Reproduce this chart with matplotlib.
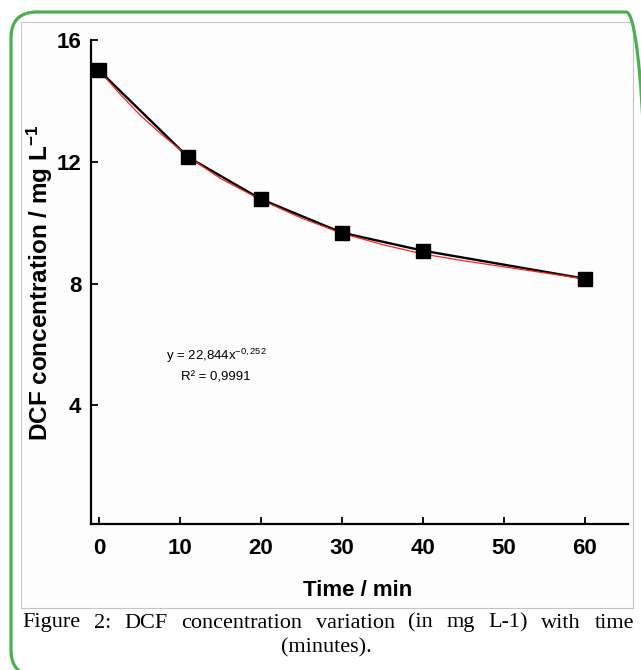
import matplotlib
matplotlib.use("Agg")
import matplotlib.pyplot as plt
from matplotlib.patches import FancyBboxPatch, Rectangle
from matplotlib.transforms import IdentityTransform

# ---- data ----
time_min = [0, 11, 20, 30, 40, 60]
dcf_conc = [15.0, 12.15, 10.77, 9.67, 9.08, 8.16]

fit_time = [0, 2.5, 5, 7.5, 10, 12.5, 15, 20, 25, 30, 35, 40, 45, 50, 55, 60]
fit_conc = [15.0, 14.25, 13.55, 12.95, 12.4, 11.9, 11.45, 10.75, 10.15, 9.65,
            9.28, 8.97, 8.75, 8.55, 8.35, 8.15]

x_ticks = [0, 10, 20, 30, 40, 50, 60]
y_ticks = [4, 8, 12, 16]

eq_line1 = r"y = 22,844x$^{\mathrm{-0,252}}$"
eq_line2 = "R² = 0,9991"
x_label = "Time / min"
y_label = r"DCF concentration / mg L$^{\mathbf{-1}}$"
caption1 = "Figure 2: DCF concentration variation (in mg L-1) with time"
caption2 = "(minutes)."

plt.rcParams['mathtext.fontset'] = 'custom'
plt.rcParams['mathtext.rm'] = 'Liberation Sans'
plt.rcParams['mathtext.bf'] = 'Liberation Sans:bold'
plt.rcParams['mathtext.it'] = 'Liberation Sans'
plt.rcParams['axes.unicode_minus'] = False

W, H = 641, 670
fig = plt.figure(figsize=(W / 100, H / 100), dpi=100)
fig.patch.set_facecolor('white')

def py(y):  # pixel-from-top to display coords
    return H - y

# inner image box
fig.patches.append(Rectangle((21, py(608)), 633 - 21, 608 - 22, transform=IdentityTransform(),
                             facecolor='#fdfdfd', edgecolor='#c4c4c4', lw=0.8, zorder=-2))
# green rounded border
fig.patches.append(FancyBboxPatch((11, py(676)), 652 - 11, 676 - 12,
                                  boxstyle="round,pad=0,rounding_size=26",
                                  transform=IdentityTransform(), facecolor='none',
                                  edgecolor='#4caf50', lw=2.3, zorder=-1))

ax = fig.add_axes([91 / W, (H - 524) / H, (627.6 - 91) / W, (524 - 40) / H])
ax.set_facecolor('none')
ax.set_xlim(-1, 65.3)
ax.set_ylim(0.1, 16)

ax.plot(time_min, dcf_conc, color='black', lw=1.7, zorder=2)
ax.plot(fit_time, fit_conc, color='#ff2020', lw=0.9, zorder=3)
ax.plot(time_min, dcf_conc, ls='none', marker='s', ms=9.5, color='black', zorder=4)

for s in ['top', 'right']:
    ax.spines[s].set_visible(False)
for s in ['left', 'bottom']:
    ax.spines[s].set_linewidth(1.6)

ax.set_xticks(x_ticks)
ax.set_yticks(y_ticks)
ax.tick_params(direction='in', length=5, width=1.3)
ax.tick_params(axis='x', pad=10)
ax.tick_params(axis='y', pad=7)
for lab in ax.get_xticklabels() + ax.get_yticklabels():
    lab.set_fontfamily('Liberation Sans')
    lab.set_fontweight('bold')
    lab.set_fontsize(16)

# equation
fig.text(216 / W, (H - 356) / H, eq_line1, ha='center', va='center',
         fontsize=9.5, family='Liberation Sans')
fig.text(216 / W, (H - 377) / H, eq_line2, ha='center', va='center',
         fontsize=9.5, family='Liberation Sans')

# axis labels
fig.text(358 / W, (H - 590) / H, x_label, ha='center', va='center',
         fontsize=16, fontweight='bold', family='Liberation Sans')
fig.text(40 / W, (H - 283) / H, y_label, ha='center', va='center', rotation=90,
         fontsize=17.5, fontweight='bold', family='Liberation Sans')

# caption, first line justified
renderer = fig.canvas.get_renderer()
words = caption1.split()
cap_kw = dict(fontsize=16, family='Liberation Serif', va='center', ha='left')
widths = []
for w in words:
    t = fig.text(0, 0, w, **cap_kw)
    widths.append(t.get_window_extent(renderer).width)
    t.remove()
x0, x1 = 22, 634
gap = (x1 - x0 - sum(widths)) / (len(words) - 1)
x = x0
for w, wd in zip(words, widths):
    fig.text(x / W, (H - 623) / H, w, **cap_kw)
    x += wd + gap
fig.text(326 / W, (H - 648) / H, caption2, fontsize=16, family='Liberation Serif',
         va='center', ha='center')

fig.savefig('out.png', dpi=100)
